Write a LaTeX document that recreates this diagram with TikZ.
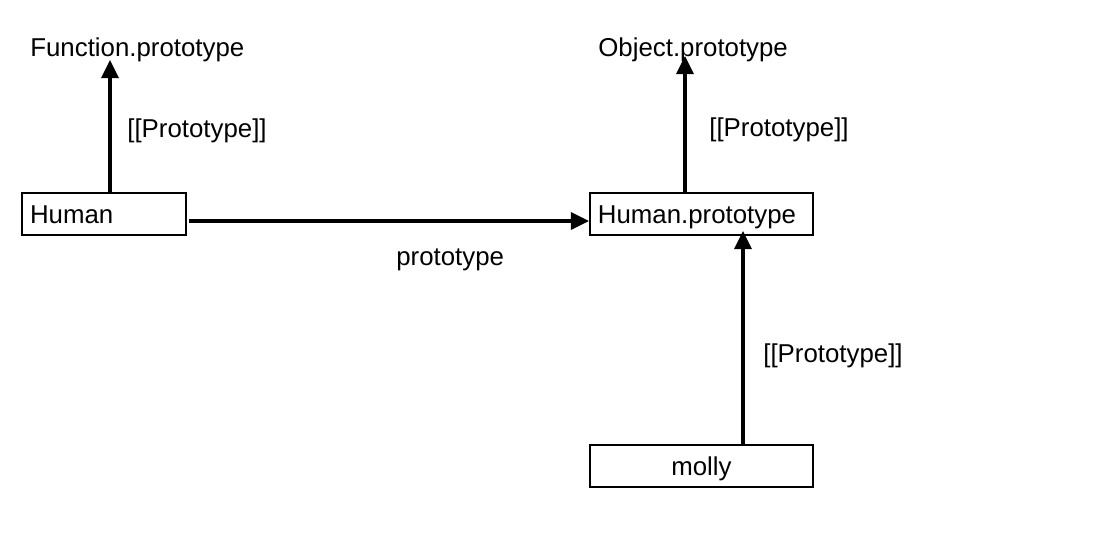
\documentclass[tikz,border=0pt]{standalone}
\usepackage{fontspec}
\setmainfont{Liberation Sans}
\usetikzlibrary{positioning,arrows.meta}
\tikzset{%
  box/.style  = {draw, line width=1.1pt, rectangle, minimum height=0.84cm,
    inner xsep=0.16cm, text height=11pt, text depth=0.5pt}, % Object box
  tag/.style  = {inner sep=0pt, anchor=base west}, % Plain text
  link/.style = {->, line width=1.8pt} % Prototype link
}

\begin{document}
\begin{tikzpicture}[x=0.02cm, y=-0.02cm, font=\fontsize{14.7}{17}\selectfont,
    >={Triangle[length=0.36cm, width=0.34cm]}]

  \useasboundingbox (0,0) rectangle (1095,538);

	\draw node at (104,214) [box, text width=2.96cm, align=left] (human) {Human};
	\draw node [box, right of=human, node distance=11.95cm, text width=4.14cm, align=left] (hproto) {Human.prototype};
	\draw node [box, below of=hproto, node distance=5.04cm, minimum width=4.46cm] (molly) {molly};

	\draw node at (30,56) [tag] (fproto) {Function.prototype};
	\draw node at (598,56) [tag] (oproto) {Object.prototype};

	\coordinate (fptip) at (110,60);
	\coordinate (optip) at (685,56);
	\coordinate (hptip) at (743,231);
	\coordinate (pstart) at (189,221);

  \draw[link] (human.north -| fptip) -- (fptip);
  \draw[link] (hproto.north -| optip) -- (optip);
  \draw[link] (molly.north -| hptip) -- (hptip);
  \draw[link] (pstart) -- (pstart -| hproto.west);

	\draw node at (127,137) [tag] (lhuman) {[[Prototype]]};
	\draw node at (709,136) [tag] (lhproto) {[[Prototype]]};
	\draw node at (763,362) [tag] (lmolly) {[[Prototype]]};
	\draw node at (396,265) [tag] (lproto) {prototype};

  \end{tikzpicture}
\end{document}
